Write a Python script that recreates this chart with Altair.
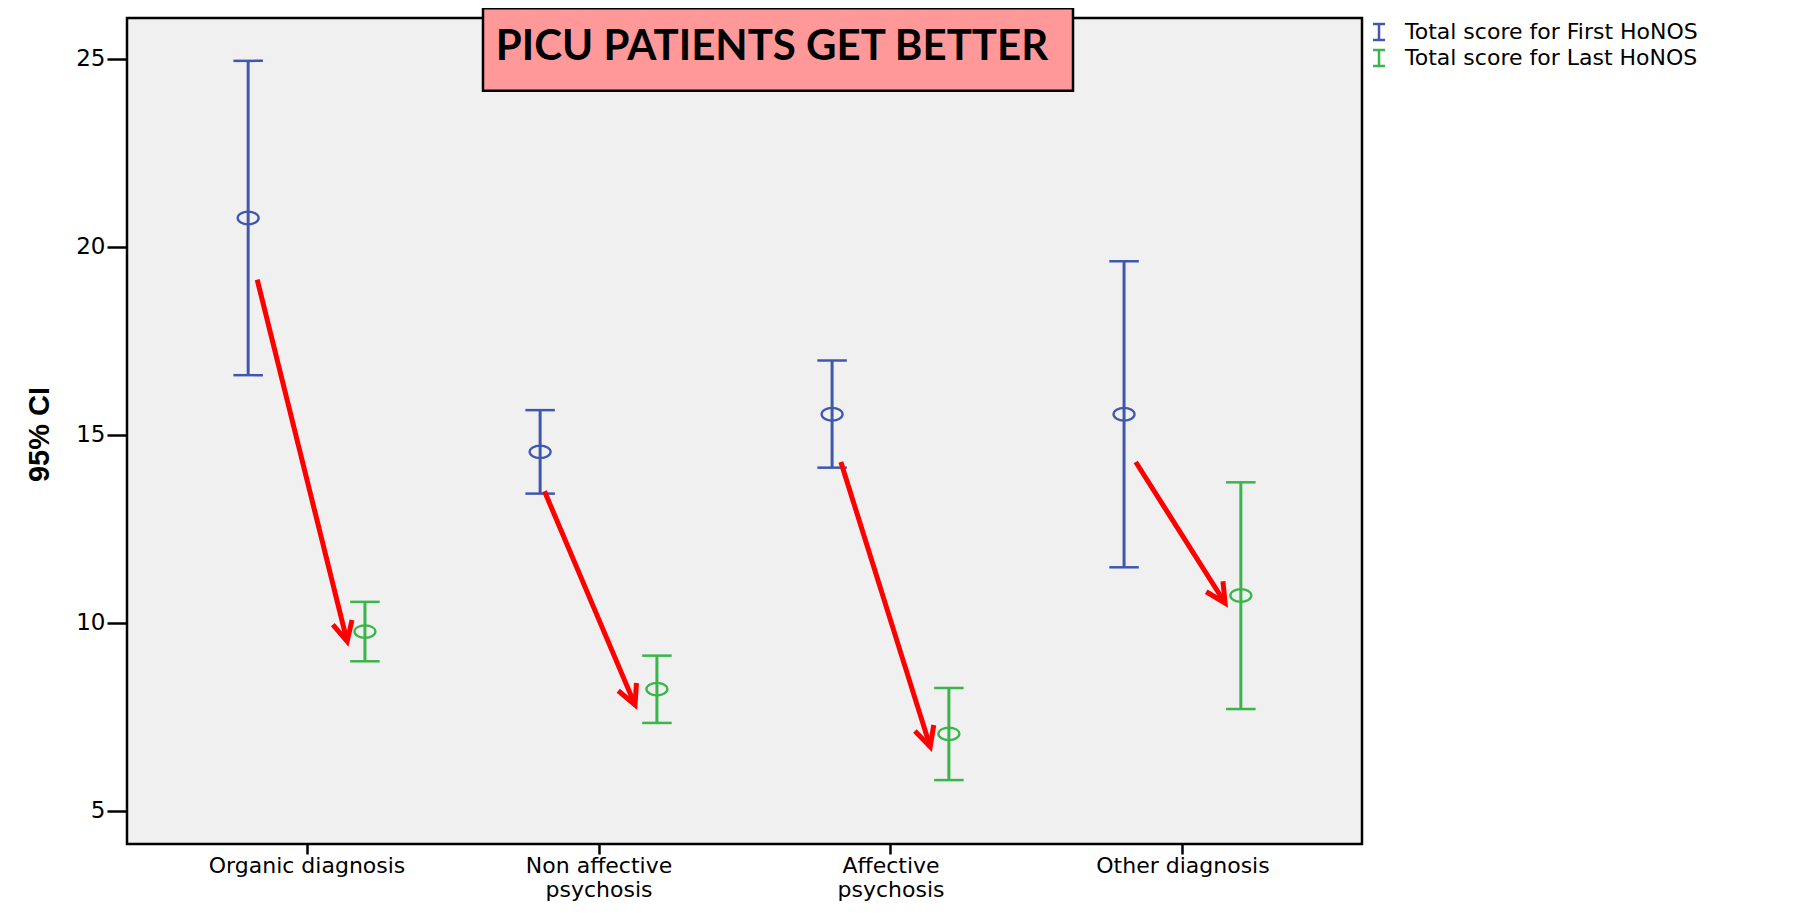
import math
import altair as alt
import pandas as pd

# ---------------- data ----------------
categories = ["Organic diagnosis", "Non affective psychosis", "Affective psychosis", "Other diagnosis"]
category_lines = [["Organic diagnosis"], ["Non affective", "psychosis"], ["Affective", "psychosis"], ["Other diagnosis"]]
series_names = ["Total score for First HoNOS", "Total score for Last HoNOS"]

first_mean = [20.76, 14.54, 15.54, 15.54]
first_low = [16.58, 13.43, 14.12, 11.47]
first_high = [24.94, 15.65, 16.97, 19.61]

last_mean = [9.76, 8.23, 7.04, 10.72]
last_low = [8.97, 7.33, 5.81, 7.70]
last_high = [10.55, 9.12, 8.26, 13.73]

# red annotation arrows (x in category-index units, y in score units)
arrow_x0 = [0.831, 1.815, 2.830, 3.840]
arrow_y0 = [19.12, 13.49, 14.27, 14.27]
arrow_x1 = [1.139, 2.125, 3.136, 4.146]
arrow_y1 = [9.50, 7.81, 6.70, 10.52]

y_ticks = [5, 10, 15, 20, 25]
title_text = "PICU PATIENTS GET BETTER"
y_title = "95% CI"

# ---------------- layout / style ----------------
W, H = 1235, 826
X_DOM = [0.385, 4.615]
Y_DOM = [4.11, 26.08]
BLUE = "#4058AC"
GREEN = "#39B54A"
RED = "#FF0000"
SERIES_SHIFT = 0.2

rows = []
for i, c in enumerate(categories):
    rows.append(dict(cat=c, idx=i + 1, series=series_names[0],
                     mean=first_mean[i], low=first_low[i], high=first_high[i]))
    rows.append(dict(cat=c, idx=i + 1, series=series_names[1],
                     mean=last_mean[i], low=last_low[i], high=last_high[i]))
df = pd.DataFrame(rows)

sx = W / (X_DOM[1] - X_DOM[0])
sy = H / (Y_DOM[1] - Y_DOM[0])
arrows = []
for a, b, c, d in zip(arrow_x0, arrow_y0, arrow_x1, arrow_y1):
    dx = (c - a) * sx
    dy = -(d - b) * sy
    ang = math.degrees(math.atan2(-dx, dy)) % 360
    arrows.append(dict(x0=a, y0=b, x1=c, y1=d, ang=ang))
adf = pd.DataFrame(arrows)

x_scale = alt.Scale(domain=X_DOM, nice=False, zero=False)
y_scale = alt.Scale(domain=Y_DOM, nice=False, zero=False)
color_scale = alt.Scale(domain=series_names, range=[BLUE, GREEN])

label_expr = "[" + ",".join(
    "[" + ",".join("'" + l + "'" for l in lines) + "]" for lines in category_lines
) + "][datum.value - 1]"

x_axis = alt.Axis(values=[1, 2, 3, 4], labelExpr=label_expr, title=None, domain=False, grid=False,
                  tickSize=10, tickWidth=2.5, tickColor="black",
                  labelFont="DejaVu Sans", labelFontSize=22, labelColor="black", labelLimit=0,
                  labelLineHeight=24, labelPadding=1, labelFlush=False, labelOverlap=False)
y_axis = alt.Axis(values=y_ticks, domain=False, grid=False, tickSize=20, tickWidth=2.5, tickColor="black",
                  labelFont="DejaVu Sans", labelFontSize=23, labelColor="black", labelPadding=2,
                  title=y_title, titleFont="Liberation Sans", titleFontSize=29, titleFontWeight="bold",
                  titleColor="black", titleAngle=270, titleBaseline="alphabetic", titleAlign="center",
                  titleX=-79, titleY=416)

I_PATH = "M -0.75 -1 L 0.75 -1 M 0 -1 L 0 1 M -0.75 1 L 0.75 1"
legend = alt.Legend(orient="none", legendX=1241, legendY=3, title=None, symbolType=I_PATH,
                    symbolSize=256, symbolStrokeWidth=2.5, labelFont="DejaVu Sans", labelFontSize=22,
                    labelColor="black", labelOffset=15, labelLimit=0, rowPadding=0, padding=0)

ELLIPSE = "M -1 0 A 1 0.6 0 1 0 1 0 A 1 0.6 0 1 0 -1 0 Z"
CHEVRON = "M -0.45 -0.89 L 0 0 L 0.45 -0.89"

one = pd.DataFrame({"t": [title_text]})

frame = alt.Chart(one).mark_rect(fill="#F0F0F0", stroke="black", strokeWidth=2.5).encode(
    x=alt.value(0), x2=alt.value(W), y=alt.value(0), y2=alt.value(H))

base = alt.Chart(df).transform_calculate(
    xpos="datum.idx + (datum.series == '%s' ? %f : %f)" % (series_names[0], -SERIES_SHIFT, SERIES_SHIFT))

bars = base.mark_rule(strokeWidth=3).encode(
    x=alt.X("xpos:Q", scale=x_scale, axis=x_axis),
    y=alt.Y("low:Q", scale=y_scale, axis=y_axis),
    y2="high:Q",
    color=alt.Color("series:N", scale=color_scale, legend=legend))

cap_lo = base.mark_tick(orient="horizontal", size=29.5, thickness=2.5, opacity=1).encode(
    x=alt.X("xpos:Q", scale=x_scale), y=alt.Y("low:Q", scale=y_scale),
    color=alt.Color("series:N", scale=color_scale, legend=None))
cap_hi = base.mark_tick(orient="horizontal", size=29.5, thickness=2.5, opacity=1).encode(
    x=alt.X("xpos:Q", scale=x_scale), y=alt.Y("high:Q", scale=y_scale),
    color=alt.Color("series:N", scale=color_scale, legend=None))

means = base.mark_point(shape=ELLIPSE, size=441, filled=False, strokeWidth=2.3, opacity=1).encode(
    x=alt.X("xpos:Q", scale=x_scale), y=alt.Y("mean:Q", scale=y_scale),
    color=alt.Color("series:N", scale=color_scale, legend=None))

arrow_lines = alt.Chart(adf).mark_rule(color=RED, strokeWidth=5).encode(
    x=alt.X("x0:Q", scale=x_scale), y=alt.Y("y0:Q", scale=y_scale), x2="x1:Q", y2="y1:Q")
arrow_heads = alt.Chart(adf).mark_point(shape=CHEVRON, size=1936, filled=False, color=RED,
                                        strokeWidth=5, opacity=1, strokeJoin="miter").encode(
    x=alt.X("x1:Q", scale=x_scale), y=alt.Y("y1:Q", scale=y_scale),
    angle=alt.Angle("ang:Q", scale=None))

box = alt.Chart(one).mark_rect(fill="#FF9999", stroke="black", strokeWidth=2.5).encode(
    x=alt.value(356), x2=alt.value(946), y=alt.value(-9.8), y2=alt.value(72.7))
box_text = alt.Chart(one).mark_text(font="Lato", fontSize=42, fontWeight="bold", color="black",
                                    align="center", baseline="middle").encode(
    x=alt.value(645), y=alt.value(29), text="t:N")

chart = alt.layer(frame, bars, cap_lo, cap_hi, means, arrow_lines, arrow_heads, box, box_text).properties(
    width=W, height=H,
    padding={"left": 119, "top": 10, "right": 420, "bottom": 58},
    autosize=alt.AutoSizeParams(type="none"),
    background="white",
).configure_view(strokeWidth=0)

chart.save("out.html", embed_options={"renderer": "svg", "actions": False})
